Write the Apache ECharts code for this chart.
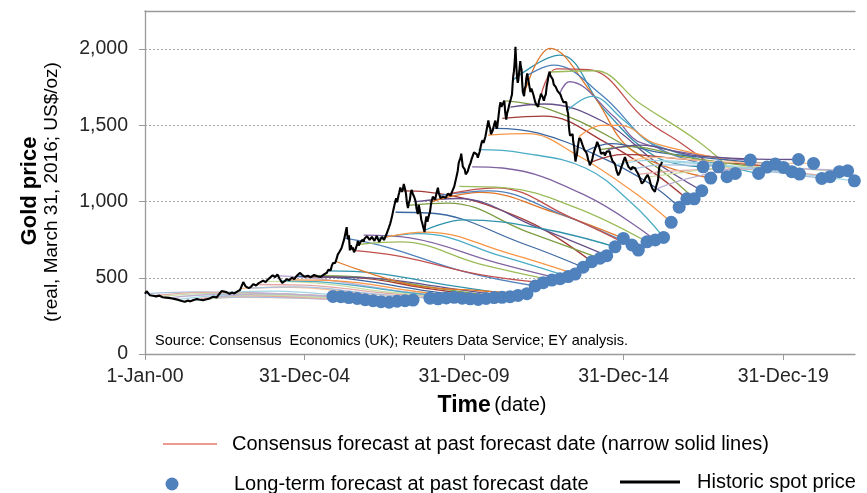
<!DOCTYPE html>
<html><head><meta charset="utf-8">
<script src="https://cdn.jsdelivr.net/npm/echarts@6/dist/echarts.min.js"></script>
<style>html,body{margin:0;padding:0;background:#fff}#c{width:867px;height:493px}</style>
</head><body><div id="c"></div>
<script>
// ---------- DATA ----------
const xTickValues = [2000, 2005, 2010, 2015, 2020];
const xTickLabels = ['1-Jan-00', '31-Dec-04', '31-Dec-09', '31-Dec-14', '31-Dec-19'];
const yTickValues = [0, 500, 1000, 1500, 2000];

// Historic spot price (real, US$/oz): [year, price]
const spotPrice = [
[2000.00,395],[2000.05,412],[2000.10,400],[2000.15,386],[2000.25,382],[2000.35,378],[2000.45,383],[2000.55,372],
[2000.65,370],[2000.75,368],[2000.85,364],[2000.95,360],[2001.05,355],[2001.15,348],[2001.25,343],[2001.35,351],
[2001.42,345],[2001.50,353],[2001.55,347],[2001.62,361],[2001.70,357],[2001.75,366],[2001.82,352],[2001.90,357],
[2002.00,362],[2002.08,370],[2002.15,376],[2002.25,371],[2002.32,392],[2002.40,413],[2002.45,400],[2002.55,406],
[2002.65,394],[2002.72,403],[2002.80,397],[2002.90,411],[2002.98,421],[2003.08,472],[2003.15,444],[2003.25,432],
[2003.32,441],[2003.40,459],[2003.48,449],[2003.55,463],[2003.62,471],[2003.70,481],[2003.78,471],[2003.85,489],
[2003.92,501],[2004.00,516],[2004.08,504],[2004.15,522],[2004.22,494],[2004.30,466],[2004.38,479],[2004.45,491],
[2004.52,484],[2004.60,501],[2004.68,492],[2004.75,511],[2004.85,532],[2004.92,520],[2005.00,507],[2005.10,513],
[2005.20,504],[2005.30,519],[2005.40,510],[2005.50,505],[2005.60,521],[2005.70,533],[2005.74,552],[2005.78,562],
[2005.82,550],[2005.85,576],[2005.89,596],[2005.92,601],[2005.96,598],[2006.00,622],[2006.04,652],[2006.07,641],
[2006.10,672],[2006.12,662],[2006.16,695],[2006.20,702],[2006.24,752],[2006.27,762],[2006.30,812],[2006.32,832],
[2006.34,780],[2006.36,752],[2006.39,778],[2006.42,680],[2006.45,712],[2006.47,722],[2006.50,684],[2006.52,699],
[2006.55,668],[2006.57,660],[2006.60,688],[2006.62,691],[2006.65,722],[2006.67,741],[2006.70,712],[2006.72,701],
[2006.75,735],[2006.78,722],[2006.82,750],[2006.85,736],[2006.88,758],[2006.92,746],[2006.96,772],[2007.00,761],
[2007.04,748],[2007.07,739],[2007.11,768],[2007.15,771],[2007.19,742],[2007.22,754],[2007.26,774],[2007.30,761],
[2007.34,736],[2007.38,747],[2007.42,768],[2007.45,771],[2007.49,748],[2007.52,759],[2007.56,782],[2007.60,791],
[2007.64,828],[2007.68,852],[2007.71,876],[2007.75,911],[2007.78,942],[2007.80,952],[2007.84,998],[2007.87,1022],
[2007.90,995],[2007.92,988],[2007.95,1046],[2007.97,1061],[2008.00,1092],[2008.02,1101],[2008.05,1064],[2008.08,1079],
[2008.11,1116],[2008.13,1122],[2008.16,1072],[2008.18,1049],[2008.21,990],[2008.24,958],[2008.27,992],[2008.30,1011],
[2008.33,1058],[2008.36,1076],[2008.39,1052],[2008.42,1038],[2008.45,1022],[2008.48,1001],[2008.51,952],[2008.55,918],
[2008.58,978],[2008.60,991],[2008.63,922],[2008.66,879],[2008.69,858],[2008.72,831],[2008.74,822],[2008.76,800],
[2008.79,868],[2008.82,902],[2008.85,868],[2008.88,858],[2008.90,912],[2008.93,931],[2008.96,978],[2008.98,1002],
[2009.02,1032],[2009.05,1041],[2009.09,1012],[2009.12,1009],[2009.15,1068],[2009.18,1091],[2009.20,1062],[2009.22,1049],
[2009.26,1022],[2009.30,1009],[2009.34,1032],[2009.38,1041],[2009.42,1024],[2009.45,1019],[2009.49,1052],[2009.52,1062],
[2009.55,1044],[2009.58,1039],[2009.62,1064],[2009.65,1071],[2009.69,1098],[2009.72,1102],[2009.76,1162],[2009.80,1201],
[2009.83,1252],[2009.86,1272],[2009.89,1288],[2009.91,1314],[2009.94,1262],[2009.96,1229],[2009.99,1226],[2010.02,1211],
[2010.05,1178],[2010.08,1168],[2010.11,1196],[2010.14,1201],[2010.17,1238],[2010.20,1252],[2010.24,1282],[2010.28,1291],
[2010.31,1322],[2010.34,1332],[2010.37,1314],[2010.40,1309],[2010.43,1288],[2010.46,1279],[2010.49,1328],[2010.52,1361],
[2010.55,1388],[2010.58,1402],[2010.61,1384],[2010.64,1389],[2010.67,1428],[2010.70,1441],[2010.73,1498],[2010.76,1532],
[2010.79,1494],[2010.82,1479],[2010.84,1442],[2010.86,1431],[2010.89,1462],[2010.92,1472],[2010.95,1512],[2010.98,1531],
[2011.00,1494],[2011.03,1478],[2011.06,1528],[2011.08,1562],[2011.11,1618],[2011.14,1652],[2011.17,1622],[2011.20,1609],
[2011.23,1648],[2011.26,1662],[2011.29,1582],[2011.32,1538],[2011.35,1582],[2011.38,1601],[2011.41,1632],[2011.44,1642],
[2011.47,1678],[2011.50,1702],[2011.52,1768],[2011.54,1822],[2011.56,1852],[2011.58,1902],[2011.60,1968],[2011.61,2015],
[2011.63,1922],[2011.64,1878],[2011.66,1812],[2011.68,1779],[2011.70,1798],[2011.72,1802],[2011.74,1878],[2011.76,1921],
[2011.78,1882],[2011.80,1868],[2011.82,1782],[2011.84,1719],[2011.86,1712],[2011.88,1691],[2011.90,1738],[2011.93,1762],
[2011.95,1808],[2011.98,1841],[2012.00,1812],[2012.03,1799],[2012.05,1752],[2012.08,1718],[2012.11,1742],[2012.14,1742],
[2012.17,1702],[2012.20,1689],[2012.23,1652],[2012.26,1638],[2012.29,1636],[2012.32,1621],[2012.35,1662],[2012.38,1682],
[2012.41,1708],[2012.44,1719],[2012.47,1682],[2012.50,1661],[2012.53,1688],[2012.56,1702],[2012.59,1758],[2012.62,1791],
[2012.65,1832],[2012.68,1852],[2012.70,1828],[2012.72,1819],[2012.75,1818],[2012.78,1801],[2012.81,1768],[2012.84,1759],
[2012.87,1752],[2012.90,1741],[2012.93,1724],[2012.96,1719],[2012.99,1716],[2013.02,1702],[2013.05,1684],[2013.08,1679],
[2013.11,1652],[2013.14,1641],[2013.17,1654],[2013.20,1652],[2013.23,1602],[2013.26,1578],[2013.28,1502],[2013.30,1461],
[2013.32,1432],[2013.34,1421],[2013.37,1438],[2013.40,1442],[2013.42,1392],[2013.45,1358],[2013.47,1302],[2013.49,1263],
[2013.51,1288],[2013.53,1302],[2013.56,1352],[2013.58,1381],[2013.61,1418],[2013.63,1429],[2013.66,1404],[2013.68,1398],
[2013.71,1372],[2013.74,1361],[2013.77,1338],[2013.80,1329],[2013.83,1322],[2013.86,1302],[2013.89,1272],[2013.92,1258],
[2013.94,1238],[2013.96,1229],[2013.99,1262],[2014.02,1281],[2014.05,1312],[2014.08,1332],[2014.11,1342],[2014.14,1368],
[2014.17,1392],[2014.20,1402],[2014.23,1362],[2014.26,1338],[2014.29,1314],[2014.32,1311],[2014.35,1324],[2014.38,1322],
[2014.41,1302],[2014.44,1298],[2014.47,1328],[2014.50,1341],[2014.53,1328],[2014.56,1329],[2014.59,1302],[2014.62,1291],
[2014.65,1266],[2014.68,1259],[2014.71,1252],[2014.74,1238],[2014.77,1208],[2014.80,1199],[2014.83,1172],[2014.86,1161],
[2014.88,1192],[2014.90,1202],[2014.93,1228],[2014.96,1242],[2014.99,1264],[2015.02,1271],[2015.04,1292],[2015.06,1298],
[2015.09,1262],[2015.12,1249],[2015.15,1228],[2015.18,1221],[2015.21,1218],[2015.24,1209],[2015.27,1226],[2015.30,1231],
[2015.33,1218],[2015.36,1219],[2015.39,1204],[2015.42,1201],[2015.45,1184],[2015.48,1179],[2015.51,1152],[2015.54,1141],
[2015.57,1118],[2015.60,1109],[2015.63,1132],[2015.66,1141],[2015.69,1156],[2015.72,1161],[2015.75,1176],[2015.78,1179],
[2015.80,1152],[2015.82,1139],[2015.85,1112],[2015.88,1101],[2015.91,1082],[2015.94,1076],[2015.96,1072],[2015.98,1064],
[2016.01,1092],[2016.03,1101],[2016.06,1128],[2016.08,1142],[2016.10,1198],[2016.12,1231],[2016.14,1222],[2016.16,1218],
[2016.18,1246],[2016.20,1261]
];

// Long-term forecast at past forecast date: [year, price]
const longTermForecasts = [
[2005.89,378],[2006.14,376],[2006.39,370],[2006.65,364],[2006.90,356],[2007.15,350],[2007.40,343],[2007.65,340],
[2007.90,346],[2008.15,350],[2008.40,354],[2008.93,366],[2009.18,362],[2009.44,368],[2009.69,372],[2009.94,366],
[2010.19,362],[2010.44,358],[2010.69,364],[2010.94,370],[2011.19,372],[2011.44,376],[2011.69,384],[2011.97,396],
[2012.23,446],[2012.48,468],[2012.75,485],[2013.01,494],[2013.26,508],[2013.48,524],[2013.73,569],[2014.00,605],
[2014.26,628],[2014.47,645],[2014.73,703],[2014.99,758],[2015.26,715],[2015.46,682],[2015.73,736],[2015.99,748],
[2016.25,765],[2016.49,864],[2016.74,963],[2016.98,1018],[2017.21,1018],[2017.45,1071],[2017.49,1228],[2017.73,1154],
[2017.97,1228],[2018.24,1163],[2018.50,1184],[2018.97,1272],[2019.23,1184],[2019.49,1226],[2019.75,1246],[2020.01,1224],
[2020.27,1196],[2020.48,1276],[2020.51,1180],[2020.95,1250],[2021.21,1152],[2021.47,1163],[2021.76,1196],[2022.02,1202],
[2022.23,1136]
];

// Consensus forecast paths (start at forecast date, then read points); each ends at its long-term forecast
const consensusForecastPaths = [
[[2000.00,395],[2001.6,408],[2004.0,398]],
[[2000.25,382],[2001.9,404],[2004.3,394]],
[[2000.50,378],[2002.1,398],[2004.5,388]],
[[2000.75,368],[2002.4,392],[2004.8,382]],
[[2001.00,356],[2002.6,384],[2005.0,374]],
[[2001.25,343],[2002.8,372],[2005.3,366]],
[[2001.50,352],[2003.0,374],[2005.5,362]],
[[2001.75,365],[2003.3,382],[2005.8,360]],
[[2002.00,362],[2003.5,388],[2006.0,366]],
[[2002.25,372],[2003.8,396],[2006.3,372]],
[[2002.50,404],[2004.0,412],[2006.5,378]],
[[2003.00,430],[2004.5,438],[2007.0,395]],
[[2003.25,432],[2004.8,440],[2007.2,394]],
[[2003.50,456],[2005.0,452],[2007.5,400]],
[[2003.75,476],[2005.2,468],[2007.7,405]],
[[2004.00,515],[2005.5,492],[2008.0,412]],
[[2004.25,480],[2005.7,470],[2008.2,404]],
[[2004.50,486],[2006.0,480],[2008.5,410]],
[[2004.75,510],[2006.2,498],[2008.7,418]],
[[2005.00,508],[2006.5,502],[2009.0,425]],
[[2005.25,514],[2006.7,506],[2009.2,430]],
[[2005.50,505],[2007.0,500],[2009.5,432]],
[[2005.75,545],[2007.2,530],[2009.7,445]],
[[2005.95,610],[2008.3,455],[2010.5,415]],
[[2006.27,760],[2007.6,700],[2010.0,540]],
[[2006.50,680],[2008.0,640],[2010.5,520]],
[[2006.75,720],[2008.0,735],[2010.5,590]],
[[2006.85,780],[2008.3,762],[2011.0,600]],
[[2007.25,757],[2008.6,790],[2011.2,640]],
[[2007.50,765],[2008.8,800],[2011.4,660]],
[[2007.85,930],[2008.9,925],[2011.9,720]],
[[2008.10,1070],[2008.8,1064],[2011.9,880]],
[[2008.25,975],[2009.5,990],[2012.0,800]],
[[2008.50,1000],[2009.8,1020],[2012.3,830]],
[[2008.75,810],[2010.0,880],[2012.5,820]],
[[2009.00,1000],[2010.5,1060],[2012.8,930]],
[[2009.25,1040],[2010.8,1070],[2013.0,920]],
[[2009.50,1050],[2011.0,1090],[2013.3,900]],
[[2009.85,1100],[2011.3,1090],[2013.5,960]],
[[2010.25,1228],[2011.2,1220],[2013.8,1040]],
[[2010.45,1340],[2011.8,1320],[2013.8,1220],[2015.3,980]],
[[2010.75,1436],[2012.0,1445],[2013.5,1310],[2015.4,1050]],
[[2010.95,1480],[2012.3,1450],[2014.2,1300],[2015.8,1120]],
[[2011.20,1545],[2012.5,1560],[2014.5,1380],[2016.0,1180]],
[[2011.30,1660],[2012.6,1610],[2014.6,1420],[2016.2,1200]],
[[2011.45,1620],[2012.5,1640],[2014.4,1520],[2016.0,1260]],
[[2011.55,1800],[2013.0,1960],[2014.4,1600],[2016.0,1294]],
[[2011.90,1720],[2012.7,2005],[2014.0,1711],[2015.3,1330]],
[[2012.00,1830],[2012.8,1895],[2014.3,1700],[2016.0,1360]],
[[2012.40,1690],[2012.9,1870],[2013.9,1865],[2015.7,1534],[2016.8,1383]],
[[2012.70,1850],[2014.1,1858],[2015.5,1645],[2017.3,1400]],
[[2013.00,1710],[2013.3,1786],[2014.7,1556],[2015.6,1381]],
[[2013.25,1600],[2014.0,1690],[2015.0,1534],[2016.0,1370]],
[[2013.60,1425],[2014.3,1500],[2014.9,1500],[2016.0,1380]],
[[2013.80,1330],[2014.6,1380],[2016.2,1320]],
[[2014.00,1260],[2015.0,1310],[2016.8,1280]],
[[2014.25,1340],[2015.2,1360],[2017.0,1290]],
[[2014.50,1340],[2015.5,1370],[2017.3,1300]],
[[2014.75,1240],[2015.8,1270],[2017.6,1250]],
[[2015.00,1260],[2016.0,1290],[2018.0,1260]],
[[2015.25,1212],[2016.3,1240],[2018.3,1225]],
[[2015.50,1180],[2016.5,1200],[2018.5,1215]],
[[2015.75,1160],[2016.8,1190],[2018.8,1230]],
[[2016.00,1080],[2017.0,1150],[2019.0,1220]],
[[2016.20,1260],[2017.2,1250],[2019.3,1210]]
];

// ---------- STYLE ----------
const FONT = 'Liberation Sans';
const baseColors = ['#4F81BD','#C0504D','#9BBB59','#8064A2','#4BACC6','#F79646'];
const darkColors = ['#3B67A0','#A33B38','#7E9D44','#65508A','#2F93AD','#E0782A'];
const lightColors = ['#A9C1E0','#E3A9A7','#CADDA6','#BDB0D2','#A2D5E3','#FAC496'];
const NAME_CONS = 'Consensus forecast at past forecast date (narrow solid lines)';
const NAME_LT = 'Long-term forecast at past forecast date';
const NAME_SPOT = 'Historic spot price';

function lineColor(i) {
  if (i < 16 || i >= 58) return lightColors[i % 6];
  return (Math.floor(i / 6) % 2 === 0 ? baseColors : darkColors)[i % 6];
}

const series = [];
consensusForecastPaths.forEach((path, i) => {
  series.push({
    type: 'line', name: 'f' + i, data: path.concat([longTermForecasts[i]]),
    smooth: 0.4, symbol: 'none', silent: true, z: 2,
    lineStyle: { width: 1.3, color: lineColor(i) }
  });
});
series.push({ type: 'line', name: NAME_CONS, data: [], symbol: 'none', z: 1,
  lineStyle: { width: 1.2, color: '#E8786F' }, itemStyle: { color: '#E8786F' } });
series.push({ type: 'scatter', name: NAME_LT, data: longTermForecasts, symbolSize: 13, z: 3,
  itemStyle: { color: '#4F81BD', opacity: 1 } });
series.push({ type: 'line', name: NAME_SPOT, data: spotPrice, symbol: 'none', z: 4,
  lineStyle: { width: 2.1, color: '#000' }, itemStyle: { color: '#000' } });

const chart = echarts.init(document.getElementById('c'), null, { renderer: 'canvas' });
chart.setOption({
  animation: false,
  textStyle: { fontFamily: FONT },
  grid: { left: 145, right: 12, top: 11, bottom: 139 },
  xAxis: [{
    type: 'value', min: 2000, max: 2022.25, interval: 5, position: 'bottom',
    axisLine: { show: true, onZero: false, lineStyle: { color: '#9A9A9A', width: 1.3 } },
    axisTick: { show: true, length: 6, lineStyle: { color: '#9A9A9A' }, customValues: xTickValues },
    axisLabel: { customValues: xTickValues, margin: 13, fontSize: 19.5, color: '#262626', fontFamily: FONT,
      formatter: v => { const k = xTickValues.indexOf(v); return k >= 0 ? xTickLabels[k] : ''; } },
    splitLine: { show: false },
    name: '{b|Time} {n|(date)}', nameLocation: 'middle', nameGap: 40,
    nameTextStyle: { padding: [0, 16, 0, 0], rich: {
      b: { fontSize: 23, fontWeight: 'bold', color: '#000', fontFamily: FONT },
      n: { fontSize: 20, color: '#000', fontFamily: FONT } } }
  }, {
    type: 'value', min: 2000, max: 2022.25, position: 'top',
    axisLine: { show: true, onZero: false, lineStyle: { color: '#9A9A9A', width: 1.3 } },
    axisTick: { show: false }, axisLabel: { show: false }, splitLine: { show: false }
  }],
  yAxis: {
    type: 'value', min: 0, max: 2250, interval: 500,
    axisLine: { show: true, lineStyle: { color: '#9A9A9A', width: 1.3 } },
    axisTick: { show: true, length: 6, lineStyle: { color: '#9A9A9A' }, customValues: yTickValues },
    axisLabel: { customValues: yTickValues, margin: 17, fontSize: 19.5, color: '#262626', fontFamily: FONT,
      formatter: v => yTickValues.indexOf(v) >= 0 ? v.toLocaleString('en-US') : '' },
    splitLine: { show: true, lineStyle: { color: '#A8A8A8', type: [2, 2], width: 1 } }
  },
  legend: [
    { data: [NAME_CONS], left: 163, top: 434, padding: 0, itemWidth: 54, itemHeight: 14, selectedMode: false,
      icon: 'path://M0,0H54V1.6H0Z',
      textStyle: { fontSize: 20, color: '#000', fontFamily: FONT, padding: [0, 0, 0, 10] } },
    { data: [NAME_LT], left: 165.5, top: 474, padding: 0, itemWidth: 13, itemHeight: 13, selectedMode: false,
      icon: 'circle',
      textStyle: { fontSize: 20, color: '#000', fontFamily: FONT, padding: [0, 0, 0, 50.5] } },
    { data: [NAME_SPOT], left: 620, top: 472, padding: 0, itemWidth: 60, itemHeight: 14, selectedMode: false,
      icon: 'path://M0,0H60V3H0Z',
      textStyle: { fontSize: 20, color: '#000', fontFamily: FONT, padding: [0, 0, 0, 12] } }
  ],
  graphic: [
    { type: 'text', x: 30, y: 191, rotation: Math.PI / 2, silent: true,
      style: { text: 'Gold price', font: 'bold 22px "' + FONT + '"', fill: '#000', textAlign: 'center', textVerticalAlign: 'middle', verticalAlign: 'middle' } },
    { type: 'text', x: 52, y: 192, rotation: Math.PI / 2, silent: true,
      style: { text: '(real, March 31, 2016; US$/oz)', font: '19px "' + FONT + '"', fill: '#000', textAlign: 'center', textVerticalAlign: 'middle', verticalAlign: 'middle' } },
    { type: 'text', x: 155, y: 341, silent: true,
      style: { text: 'Source: Consensus  Economics (UK); Reuters Data Service; EY analysis.', font: '14.5px "' + FONT + '"', fill: '#000', textAlign: 'left', textVerticalAlign: 'middle', verticalAlign: 'middle' } }
  ],
  series: series
});
</script></body></html>
